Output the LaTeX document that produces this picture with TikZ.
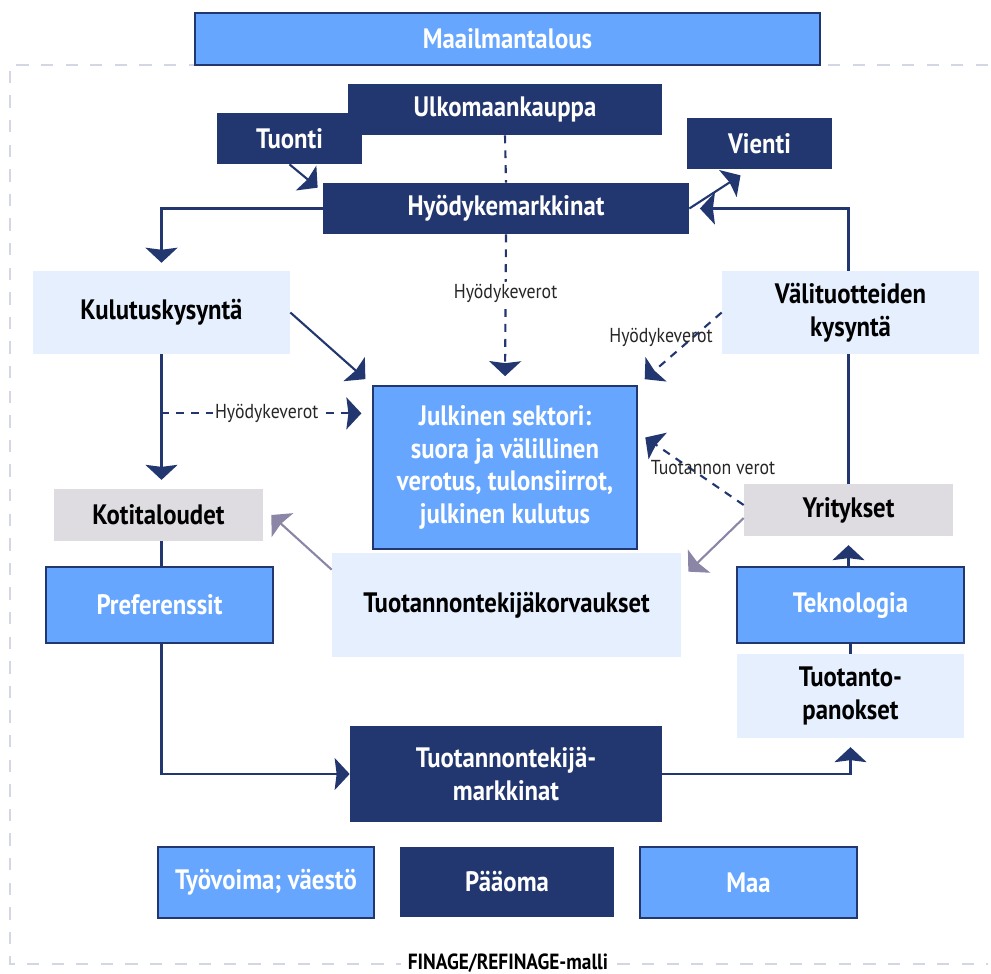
\documentclass[tikz,border=0pt]{standalone}
\usepackage{fontspec}
\setmainfont{PT Sans}[FakeStretch=0.88]
\usetikzlibrary{arrows.meta, positioning, calc}
\definecolor{finnavy}{HTML}{22366F}
\definecolor{finblue}{HTML}{66A6FF}
\definecolor{finpale}{HTML}{E5EFFD}
\definecolor{fingrey}{HTML}{DEDBE1}
\definecolor{finmauve}{HTML}{8B86A6}
\definecolor{finframe}{HTML}{D3D7E4}
\tikzset{
  navybox/.style={fill=finnavy, text=white},
  bluebox/.style={fill=finblue, draw=finnavy, line width=1.2pt, text=white},
  palebox/.style={fill=finpale, text=black},
  greybox/.style={fill=fingrey, text=black},
  link/.style={finnavy, line width=1.2pt},
  flow/.style={link, -{Stealth[length=3mm, width=6.4mm, inset=0.4mm]}},
  taxline/.style={link, dash pattern=on 4.5pt off 4pt},
  taxflow/.style={flow, dash pattern=on 4.5pt off 4pt},
  payflow/.style={flow, finmauve},
  taxlabel/.style={font=\fontsize{11.5}{13}\selectfont, text=black!85, inner sep=1pt},
}
\newcommand{\finbox}[7]{%
  \node[#2, inner sep=0pt, align=center, font=\bfseries\fontsize{16}{18.5}\selectfont,
        minimum width={(#5-#3)*0.02cm}, minimum height={(#6-#4)*0.02cm}]
        (#1) at ({(#3+#5)/2},{(#4+#6)/2}) {#7};}

\begin{document}
\begin{tikzpicture}[x=0.02cm, y=-0.02cm]
  \useasboundingbox (0,0) rectangle (991,974);
  \draw[finframe, line width=1.2pt, dash pattern=on 7pt off 7pt]
    (988,65) -- (10,65) -- (10,964) -- (988,964);
  \finbox{maail}{bluebox}{195}{13}{820}{65}{Maailmantalous}
  \finbox{ulko}{navybox}{348}{84}{662}{135}{Ulkomaankauppa}
  \finbox{tuon}{navybox}{217}{113}{362}{164}{Tuonti}
  \finbox{vien}{navybox}{687}{118}{832}{169}{Vienti}
  \finbox{hyod}{navybox}{323}{183}{689}{234}{Hyödykemarkkinat}
  \finbox{kulu}{palebox}{33}{271}{290}{354}{Kulutuskysyntä}
  \finbox{vali}{palebox}{722}{271}{979}{354}{Välituotteiden\\kysyntä}
  \finbox{julk}{bluebox}{373}{386}{637}{549}{Julkinen sektori:\\suora ja välillinen\\verotus, tulonsiirrot,\\julkinen kulutus}
  \finbox{koti}{greybox}{54}{489}{263}{541}{Kotitaloudet}
  \finbox{yrit}{greybox}{744}{484}{953}{536}{Yritykset}
  \finbox{pref}{bluebox}{46}{567}{273}{643}{Preferenssit}
  \finbox{korv}{palebox}{332}{553}{681}{657}{Tuotannontekijäkorvaukset}
  \finbox{tekn}{bluebox}{737}{567}{964}{643}{Teknologia}
  \finbox{panos}{palebox}{737}{654}{964}{738}{Tuotanto-\\panokset}
  \finbox{tmark}{navybox}{350}{726}{662}{822}{Tuotannontekijä-\\markkinat}
  \finbox{tyov}{bluebox}{158}{847}{374}{918}{Työvoima; väestö}
  \finbox{paao}{navybox}{400}{847}{614}{917}{Pääoma}
  \finbox{maa}{bluebox}{640}{847}{857}{918}{Maa}
  \node[fill=white, inner sep=4pt, font=\bfseries\fontsize{12.5}{14}\selectfont] (malli) at (508,963) {FINAGE/REFINAGE-malli};
  % ulkomaankauppa
  \draw[flow] (tuon.south) -- ($(hyod.north west)+(-5,5)$);
  \draw[taxline] (ulko.south) -- (hyod.north);
  \draw[flow] (hyod.east) -- ($(vien.south)+(-19,6)$);
  \draw[flow, shorten >=6pt] (yrit.north |- vali.north) |- (hyod.east);
  \draw[link] (yrit.north) -- (yrit.north |- vali.south);
  % kysynta ja verot
  \draw[taxflow, shorten >=5pt] (hyod.south) -- node[taxlabel, fill=white, pos=0.39] (hv1) {Hyödykeverot} (julk.north);
  \draw[flow, shorten >=4.5pt] (hyod.west) -| (kulu.north);
  \draw[flow, shorten >=5pt] (kulu.south) -- (kulu.south |- koti.north);
  \coordinate (kh) at ($(kulu.south)+(0,59)$);
  \draw[taxflow, shorten >=6pt] (kh) -- node[taxlabel, fill=white] (hv2) {Hyödykeverot} (kh -| julk.west);
  \draw[flow, shorten >=5pt] (kulu.east) -- (julk.north west);
  \draw[taxflow, shorten >=5pt] (vali.west) -- (julk.north east);
  \node[taxlabel] (hv3) at (661,337) {Hyödykeverot};
  \draw[taxflow, shorten >=5pt] ($(yrit.west)+(0,-5)$) -- ($(julk.east)+(0,-35)$);
  \node[taxlabel] (tv) at (713,468) {Tuotannon verot};
  % korvaukset
  \draw[payflow] ($(yrit.west)+(0,8)$) -- ($(korv.north east)+(7,19)$);
  \draw[payflow] ($(korv.north west)+(0,17)$) -- ($(koti.east)+(8,0)$);
  % tuotannontekijat
  \draw[link] (koti.south -| kulu.south) -- (pref.north -| kulu.south);
  \draw[flow] (pref.south -| kulu.south) |- (tmark.west);
  \draw[flow, shorten >=5pt] (tmark.east) -| (panos.south);
  \draw[flow, shorten >=5pt] (tekn.north -| yrit.south) -- (yrit.south);
  \draw[link] (tekn.south) -- (panos.north);
\end{tikzpicture}
\end{document}
